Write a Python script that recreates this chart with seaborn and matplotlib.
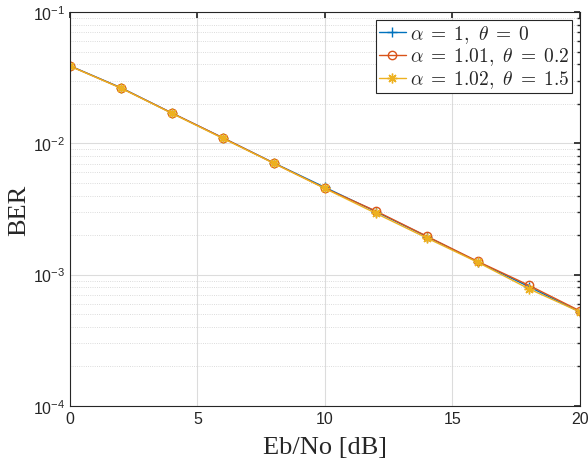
import numpy as np
import pandas as pd
import matplotlib
matplotlib.use("Agg")
import matplotlib.pyplot as plt
import seaborn as sns
from matplotlib.ticker import LogLocator, NullFormatter

sns.set_theme(style="white")
plt.rcParams['font.family'] = ['Liberation Sans', 'DejaVu Sans']
plt.rcParams['mathtext.fontset'] = 'cm'

# data
ebno = [0, 2, 4, 6, 8, 10, 12, 14, 16, 18, 20]
ber_a = [0.0389, 0.0265, 0.0170, 0.0110, 0.00708, 0.00462, 0.00302, 0.00195, 0.00125, 0.00081, 0.00052]
ber_b = [0.0388, 0.0264, 0.0170, 0.0110, 0.00706, 0.00455, 0.00305, 0.00196, 0.00126, 0.00083, 0.00053]
ber_c = [0.0387, 0.0263, 0.0169, 0.0109, 0.00703, 0.00453, 0.00293, 0.00190, 0.00124, 0.00078, 0.00052]
labels = [r'$\alpha\;=\;1,\ \theta\;=\;0$',
          r'$\alpha\;=\;1.01,\ \theta\;=\;0.2$',
          r'$\alpha\;=\;1.02,\ \theta\;=\;1.5$']

colors = ['#0072BD', '#D95319', '#EDB120']
markers = ['+', 'o', (8, 2, 0)]
msizes = [7, 6, 7]

fig = plt.figure(figsize=(5.88, 4.64), dpi=100)
ax = fig.add_axes([0.119, 0.123, 0.867, 0.849])

for ys, lab, c, m, ms in zip([ber_a, ber_b, ber_c], labels, colors, markers, msizes):
    df = pd.DataFrame({'x': ebno, 'y': ys})
    sns.lineplot(data=df, x='x', y='y', ax=ax, color=c, linewidth=1.0,
                 marker=m, markersize=ms, markerfacecolor='none' if m == 'o' else c,
                 markeredgecolor=c, markeredgewidth=1.0, label=lab)

ax.set_yscale('log')
ax.set_xlim(0, 20)
ax.set_ylim(1e-4, 1e-1)
ax.set_xticks([0, 5, 10, 15, 20])
ax.yaxis.set_major_locator(LogLocator(base=10, numticks=10))
ax.yaxis.set_minor_locator(LogLocator(base=10, subs=np.arange(2, 10), numticks=10))
ax.yaxis.set_minor_formatter(NullFormatter())

ax.grid(True, which='major', color='#dcdcdc', linewidth=0.8, linestyle='-')
ax.grid(True, which='minor', axis='y', color='#d0d0d0', linewidth=0.6, linestyle=':')
ax.set_axisbelow(True)

for s in ax.spines.values():
    s.set_color('#262626')
    s.set_linewidth(0.8)
ax.tick_params(which='both', direction='in', top=True, right=True, color='#262626')
ax.tick_params(which='major', length=4, labelsize=11.5, labelcolor='#262626')
ax.tick_params(which='minor', length=2)

ax.set_xlabel('Eb/No [dB]', fontsize=19, family='Liberation Serif', labelpad=7)
ax.set_ylabel('BER', fontsize=19, family='Liberation Serif', labelpad=2)

leg = ax.legend(loc='upper right', fontsize=14, frameon=True, fancybox=False,
                edgecolor='#262626', framealpha=1, borderpad=0.15, labelspacing=0.05,
                handlelength=1.4, handletextpad=0.2, borderaxespad=0.4)
leg.get_frame().set_linewidth(0.8)

fig.savefig('out.png', dpi=100)
